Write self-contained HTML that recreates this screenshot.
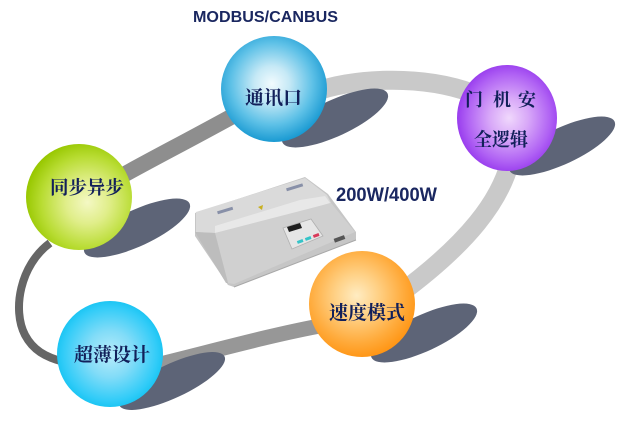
<!DOCTYPE html>
<html>
<head>
<meta charset="utf-8">
<style>
  html,body{margin:0;padding:0;background:#fff;}
  svg{display:block;}
  .cj{font-family:"Liberation Serif","Noto Serif CJK SC","Noto Sans CJK SC",serif;font-weight:700;fill:#12205a;}
  .lt{font-family:"Liberation Sans",Arial,sans-serif;fill:#1a2760;}
</style>
</head>
<body>
<svg width="618" height="440" viewBox="0 0 618 440" xmlns="http://www.w3.org/2000/svg">
  <defs>
    <radialGradient id="gBlue" cx="0.48" cy="0.45" r="0.55">
      <stop offset="0" stop-color="#f2fbfe"/>
      <stop offset="0.3" stop-color="#c6e9f6"/>
      <stop offset="0.7" stop-color="#5ec1e7"/>
      <stop offset="1" stop-color="#1a9ad2"/>
    </radialGradient>
    <radialGradient id="gPurple" cx="0.52" cy="0.5" r="0.55">
      <stop offset="0" stop-color="#f0d8fc"/>
      <stop offset="0.35" stop-color="#d8a8f8"/>
      <stop offset="0.75" stop-color="#b062f4"/>
      <stop offset="1" stop-color="#9232ec"/>
    </radialGradient>
    <radialGradient id="gGreen" cx="0.58" cy="0.55" r="0.58">
      <stop offset="0" stop-color="#f4f8c4"/>
      <stop offset="0.35" stop-color="#e0ee8a"/>
      <stop offset="0.75" stop-color="#b8dc32"/>
      <stop offset="1" stop-color="#99c802"/>
    </radialGradient>
    <radialGradient id="gOrange" cx="0.45" cy="0.42" r="0.6">
      <stop offset="0" stop-color="#ffecc2"/>
      <stop offset="0.35" stop-color="#ffd084"/>
      <stop offset="0.75" stop-color="#ffaa3a"/>
      <stop offset="1" stop-color="#ff9412"/>
    </radialGradient>
    <radialGradient id="gCyan" cx="0.5" cy="0.5" r="0.55">
      <stop offset="0" stop-color="#b8ecfa"/>
      <stop offset="0.4" stop-color="#82dcf8"/>
      <stop offset="0.8" stop-color="#32ccf8"/>
      <stop offset="1" stop-color="#0ac0f0"/>
    </radialGradient>
  </defs>

  <rect width="618" height="440" fill="#fff"/>

  <!-- ring bands -->
  <path d="M50 243 C20 265, 12 310, 25 335 C33 350, 45 357, 64 362" fill="none" stroke="#666" stroke-width="8"/>
  <path d="M118 178 C150 160, 195 137, 240 112" fill="none" stroke="#8e8e8e" stroke-width="16"/>
  <path d="M312 93 C350 78, 420 74, 472 93" fill="none" stroke="#c9c9c9" stroke-width="19"/>
  <path d="M510 162 C500 200, 470 242, 398 295" fill="none" stroke="#c9c9c9" stroke-width="19"/>
  <path d="M325 325 C270 335, 210 352, 148 367" fill="none" stroke="#979797" stroke-width="15"/>

  <!-- shadows -->
  <g fill="#5d6477">
    <ellipse cx="335" cy="118" rx="58" ry="18" transform="rotate(-25 335 118)"/>
    <ellipse cx="562" cy="146" rx="58" ry="18" transform="rotate(-25 562 146)"/>
    <ellipse cx="137" cy="228" rx="58" ry="18" transform="rotate(-25 137 228)"/>
    <ellipse cx="424" cy="333" rx="58" ry="18" transform="rotate(-25 424 333)"/>
    <ellipse cx="172" cy="381" rx="58" ry="17" transform="rotate(-25 172 381)"/>
  </g>

  <!-- device -->
  <g>
    <polygon points="195,213 305,177 328,194 356,232 356,240 234,287 228,285 195,236" fill="#c6c6c6"/>
    <polygon points="196,212 305,178 327,195 331,203 258,224 215,233 196,232" fill="#dadada"/>
    <polygon points="215,226 300,200 325,196 330,203 258,224 215,233" fill="#e8e8e8"/>
    <polygon points="215,233 331,203 355,232 234,284 228,283" fill="#d0d0d0"/>
    <polygon points="195,232 215,233 228,283 226,283" fill="#bdbdbd"/>
    <polygon points="283,228 311,219 323,236 292,249" fill="#e6e6e6" stroke="#b0b0b0" stroke-width="0.8"/>
    <polygon points="287,227 300,223 302,228 289,232" fill="#1e1e1e"/>
    <rect x="297" y="240" width="6" height="3" fill="#36c4c8" transform="rotate(-20 300 241)"/>
    <rect x="305" y="237" width="6" height="3" fill="#36c4c8" transform="rotate(-20 308 238)"/>
    <rect x="313" y="234" width="6" height="3" fill="#d83a5a" transform="rotate(-20 316 235)"/>
    <rect x="334" y="237" width="11" height="4" fill="#555" transform="rotate(-20 339 239)"/>
    <rect x="217" y="209" width="16" height="3" fill="#8890a8" transform="rotate(-17 225 210)"/>
    <rect x="286" y="186" width="17" height="3" fill="#8890a8" transform="rotate(-17 294 187)"/>
    <polygon points="258,207 263,205 262,210" fill="#c8b020"/>
    <line x1="234" y1="287" x2="356" y2="240" stroke="#a8a8a8" stroke-width="1"/>
  </g>

  <!-- balls -->
  <circle cx="274" cy="89" r="53" fill="url(#gBlue)"/>
  <ellipse cx="507" cy="118" rx="50" ry="53" fill="url(#gPurple)"/>
  <circle cx="79" cy="197" r="53" fill="url(#gGreen)"/>
  <circle cx="362" cy="304" r="53" fill="url(#gOrange)"/>
  <circle cx="110" cy="354" r="53" fill="url(#gCyan)"/>

  <!-- labels -->
  <text class="lt" x="193" y="22" font-size="15.5" font-weight="700" textLength="145" lengthAdjust="spacingAndGlyphs">MODBUS/CANBUS</text>
  <text class="lt" x="336" y="201" font-size="19.5" font-weight="700" textLength="101" lengthAdjust="spacingAndGlyphs">200W/400W</text>

  <text class="cj" x="245" y="104" font-size="19" textLength="57" lengthAdjust="spacingAndGlyphs">通讯口</text>
  <text class="cj" x="465" y="106" font-size="18">门</text>
  <text class="cj" x="493" y="106" font-size="18">机</text>
  <text class="cj" x="518" y="106" font-size="18">安</text>
  <text class="cj" x="474" y="146" font-size="18.5" textLength="54" lengthAdjust="spacingAndGlyphs">全逻辑</text>
  <text class="cj" x="50" y="194" font-size="18.5" textLength="74" lengthAdjust="spacingAndGlyphs">同步异步</text>
  <text class="cj" x="329" y="319" font-size="19" textLength="76" lengthAdjust="spacingAndGlyphs">速度模式</text>
  <text class="cj" x="74" y="361" font-size="19" textLength="76" lengthAdjust="spacingAndGlyphs">超薄设计</text>
</svg>
</body>
</html>
